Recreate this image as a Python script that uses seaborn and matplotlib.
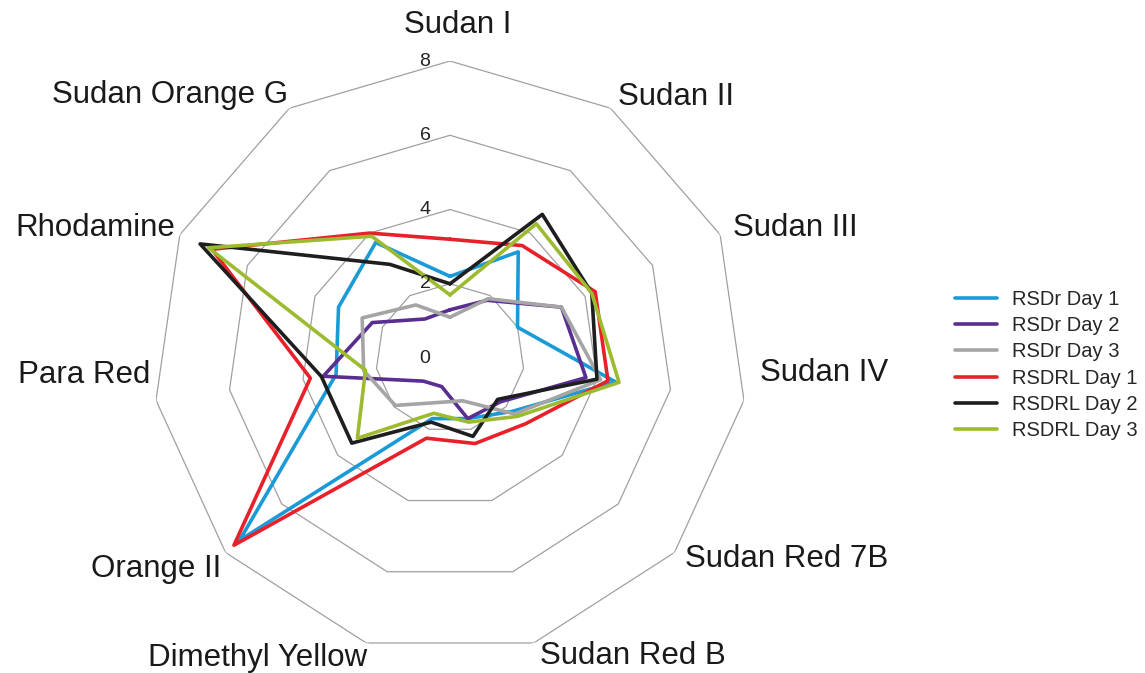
import numpy as np
import pandas as pd
import matplotlib
matplotlib.use("Agg")
import matplotlib.pyplot as plt
import seaborn as sns

# ==========================
# DATA
# ==========================

categories = [
    "Sudan I", "Sudan II", "Sudan III", "Sudan IV", "Sudan Red 7B",
    "Sudan Red B", "Dimethyl Yellow", "Orange II", "Para Red",
    "Rhodamine", "Sudan Orange G",
]

series_names = [
    "RSDr Day 1", "RSDr Day 2", "RSDr Day 3",
    "RSDRL Day 1", "RSDRL Day 2", "RSDRL Day 3",
]

rsdr_day1 = [2.2, 3.4, 2.0, 4.5, 2.2, 1.7, 1.7, 7.5, 3.1, 3.3, 3.7]
rsdr_day2 = [1.3, 1.85, 3.3, 3.7, 1.8, 1.7, 0.8, 0.95, 3.45, 2.3, 1.25]
rsdr_day3 = [1.1, 1.9, 3.3, 4.1, 2.3, 1.2, 1.25, 1.95, 2.35, 2.6, 1.7]
rsdrl_day1 = [3.2, 3.6, 4.3, 4.3, 2.7, 2.4, 2.25, 7.7, 3.8, 7.05, 4.0]
rsdrl_day2 = [2.0, 4.6, 4.2, 4.0, 1.7, 2.2, 1.8, 3.5, 3.5, 7.4, 3.0]
rsdrl_day3 = [1.7, 4.3, 4.2, 4.6, 2.4, 1.8, 1.55, 3.3, 2.3, 7.15, 3.9]

radial_ticks = [0, 2, 4, 6, 8]

colors = ["#1A9AD6", "#5A2D91", "#A5A5A5", "#E8202A", "#1E1E1E", "#9DBB2F"]

# ==========================
# BUILD LONG TABLE
# ==========================

n = len(categories)
angles = np.arange(n) * 2 * np.pi / n

rows = []
for name, vals in zip(series_names, [rsdr_day1, rsdr_day2, rsdr_day3,
                                     rsdrl_day1, rsdrl_day2, rsdrl_day3]):
    closed = list(vals) + [vals[0]]
    thetas = list(angles) + [2 * np.pi]
    for i, (t, v) in enumerate(zip(thetas, closed)):
        rows.append({"series": name, "theta": t, "value": v, "order": i})
df = pd.DataFrame(rows)

# ==========================
# PLOT
# ==========================

sns.set_style("white")
plt.rcParams["font.family"] = ["Liberation Sans", "DejaVu Sans"]

fig = plt.figure(figsize=(11.45, 6.73), dpi=100)
ax = fig.add_axes([0.1336, 0.0267, 0.5188, 0.8826], projection="polar")
ax.set_theta_zero_location("N")
ax.set_theta_direction(-1)

sns.lineplot(
    data=df, x="theta", y="value", hue="series",
    hue_order=series_names, palette=colors,
    sort=False, estimator=None, linewidth=2.6,
    legend=False, ax=ax, zorder=3,
)
series_lines = list(ax.get_lines())

# polygon grid
grid_theta = np.append(angles, 2 * np.pi)
for level in radial_ticks[1:]:
    ax.plot(grid_theta, [level] * len(grid_theta),
            color="#A0A0A0", linewidth=0.9, zorder=1)

ax.set_ylim(0, 8)
ax.grid(False)
ax.spines["polar"].set_visible(False)
ax.set_xticks([])
ax.set_yticks([])
ax.set_xlabel("")
ax.set_ylabel("")

# radial labels
for level in radial_ticks:
    ax.annotate(str(level), xy=(0, level), xytext=(-18, 0),
                textcoords="offset points", ha="center", va="center",
                fontsize=14, color="#222222")

# category labels (pixel offsets from outer vertex)
label_offsets = [(8, 36), (7, 11), (13, 7), (16, 27), (11, -6), (6, -13),
                 (1, -15), (-4, -16), (-6, 25), (-5, 7), (-1, 13)]
for k, (lab, th) in enumerate(zip(categories, angles)):
    s = np.sin(th)
    ha = "center" if abs(s) < 0.05 else ("left" if s > 0 else "right")
    dx, dy = label_offsets[k]
    ax.annotate(lab, xy=(th, 8), xytext=(dx / 1.389, dy / 1.389),
                textcoords="offset points", ha=ha, va="center",
                fontsize=22.5, color="#1a1a1a", annotation_clip=False)

# legend
fig.legend(series_lines, series_names, loc="center left",
           bbox_to_anchor=(955 / 1145, 1 - 365 / 673), frameon=False,
           fontsize=14.5, handlelength=2.1, handletextpad=0.75,
           labelspacing=0.36, borderpad=0, borderaxespad=0)

fig.savefig("out.png", dpi=100, facecolor="white")
